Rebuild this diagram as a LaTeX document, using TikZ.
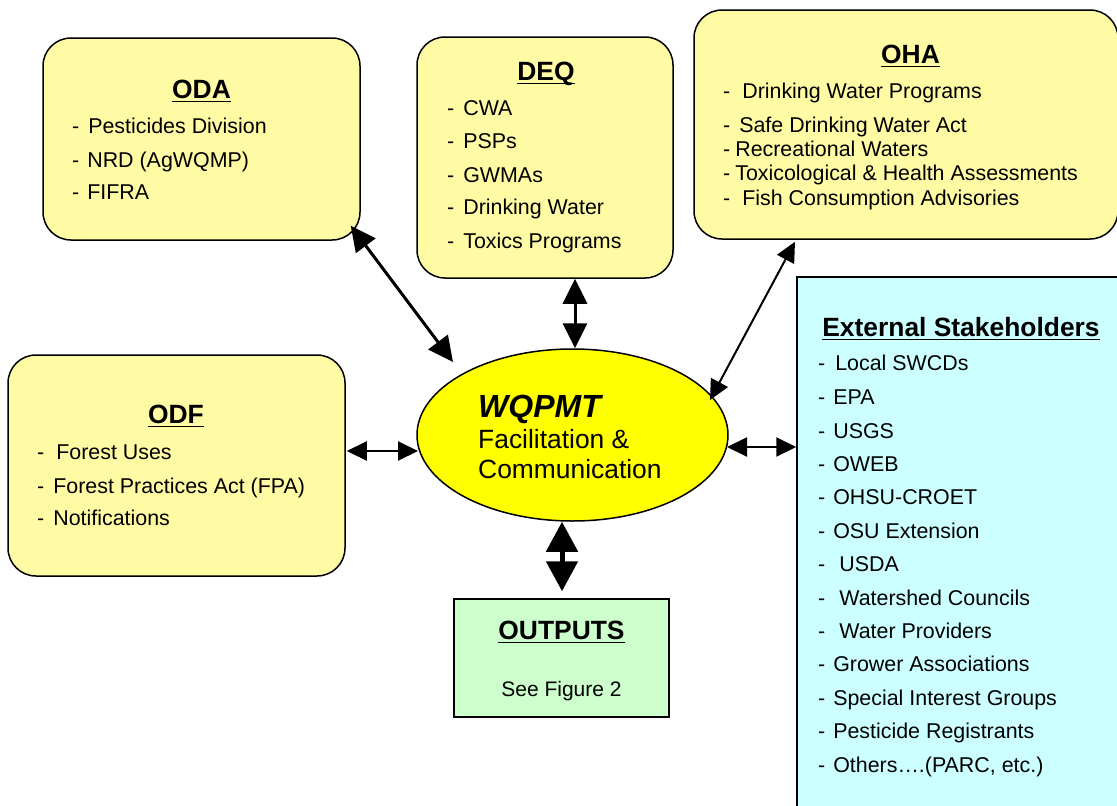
\documentclass[tikz,border=0pt]{standalone}
\usepackage{fontspec}
\setmainfont{Liberation Sans}
\usetikzlibrary{arrows.meta,calc,shapes.geometric}
\definecolor{boxyellow}{RGB}{255,251,165}
\definecolor{ellyellow}{RGB}{255,255,0}
\definecolor{extcyan}{RGB}{204,255,255}
\definecolor{outgreen}{RGB}{204,255,204}
\newcommand{\thickul}[1]{\leavevmode\setbox0=\hbox{#1}\dp0=0pt\vtop{\box0\kern2.5pt\hrule height1.5pt}}
\begin{document}
\begin{tikzpicture}[x=1pt,y=-1pt,
  agency/.style={draw=black,line width=1.5pt,fill=boxyellow,rounded corners=28pt,rectangle,inner sep=0pt},
  plainbox/.style={draw=black,line width=1.5pt,rectangle,inner sep=0pt},
  ttl/.style={anchor=base,inner sep=0pt,font=\fontsize{26.4}{30}\selectfont\bfseries},
  itm/.style={anchor=base west,inner sep=0pt,font=\fontsize{21.4}{25}\selectfont},
  wqtxt/.style={anchor=base west,inner sep=0pt,font=\fontsize{26.4}{30}\selectfont},
  arrBig/.style={line width=3pt,{Triangle[length=25pt,width=24pt]}-{Triangle[length=25pt,width=24pt]}},
  arrThin/.style={line width=2pt,{Triangle[length=20pt,width=19pt]}-{Triangle[length=20pt,width=19pt]}},
  arrFat/.style={line width=5pt,{Triangle[length=30pt,width=31pt]}-{Triangle[length=30pt,width=31pt]}}]
\useasboundingbox (0,0) rectangle (1117,806);
\clip (0,0) rectangle (1117,806);
\fill[white] (0,0) rectangle (1117,806);

% boxes
\node[agency,minimum width=317pt,minimum height=202pt] (oda) at (201.5,139) {};
\node[agency,minimum width=256pt,minimum height=241pt] (deq) at (545,157.5) {};
\node[agency,minimum width=424pt,minimum height=229pt] (oha) at (906,124.5) {};
\node[agency,minimum width=337pt,minimum height=221pt] (odf) at (176.5,465.5) {};
\node[plainbox,fill=extcyan,minimum width=333pt,minimum height=543pt] (ext) at (963.5,548.5) {};
\node[plainbox,fill=outgreen,minimum width=215pt,minimum height=118pt] (out) at (561.5,658) {};
\node[ellipse,draw=black,line width=1.5pt,fill=ellyellow,minimum width=311pt,minimum height=172pt,inner sep=0pt] (wq) at (572.5,435) {};

% ODA
\node[ttl] (odat) at (201.5,98) {\thickul{ODA}};
\node[itm] (oda1) at (72,133) {-\hspace{9pt}Pesticides Division};
\node[itm] (oda2) at (72,167) {-\hspace{8pt}NRD (AgWQMP)};
\node[itm] (oda3) at (72,199) {-\hspace{8pt}FIFRA};

% DEQ
\node[ttl] (deqt) at (546,80) {\thickul{DEQ}};
\node[itm] (deq1) at (447,115) {-\hspace{9pt}CWA};
\node[itm] (deq2) at (447,148) {-\hspace{9pt}PSPs};
\node[itm] (deq3) at (447,182) {-\hspace{9pt}GWMAs};
\node[itm] (deq4) at (447,214) {-\hspace{9pt}Drinking Water};
\node[itm] (deq5) at (447,248) {-\hspace{9pt}Toxics Programs};

% OHA
\node[ttl] (ohat) at (910.5,63) {\thickul{OHA}};
\node[itm] (oha1) at (723,98) {-\hspace{12pt}Drinking Water Programs};
\node[itm] (oha2) at (723,132) {-\hspace{9pt}Safe Drinking Water Act};
\node[itm] (oha3) at (723,156) {-\hspace{5pt}Recreational Waters};
\node[itm] (oha4) at (723,180) {-\hspace{5pt}Toxicological \& Health Assessments};
\node[itm] (oha5) at (723,205) {-\hspace{12pt}Fish Consumption Advisories};

% ODF
\node[ttl] (odft) at (176,423) {\thickul{ODF}};
\node[itm] (odf1) at (37,459) {-\hspace{12pt}Forest Uses};
\node[itm] (odf2) at (37,493) {-\hspace{9pt}Forest Practices Act (FPA)};
\node[itm] (odf3) at (37,525) {-\hspace{9pt}Notifications};

% External
\node[ttl] (extt) at (961,336) {\thickul{External Stakeholders}};
\node[itm] (ext1) at (818,370) {-\hspace{10pt}Local SWCDs};
\node[itm] (ext2) at (818,404) {-\hspace{8pt}EPA};
\node[itm] (ext3) at (818,438) {-\hspace{8pt}USGS};
\node[itm] (ext4) at (818,471) {-\hspace{8pt}OWEB};
\node[itm] (ext5) at (818,504) {-\hspace{8pt}OHSU-CROET};
\node[itm] (ext6) at (818,538) {-\hspace{8pt}OSU Extension};
\node[itm] (ext7) at (818,571) {-\hspace{14pt}USDA};
\node[itm] (ext8) at (818,605) {-\hspace{14pt}Watershed Councils};
\node[itm] (ext9) at (818,638) {-\hspace{14pt}Water Providers};
\node[itm] (ext10) at (818,671) {-\hspace{8pt}Grower Associations};
\node[itm] (ext11) at (818,705) {-\hspace{8pt}Special Interest Groups};
\node[itm] (ext12) at (818,738) {-\hspace{8pt}Pesticide Registrants};
\node[itm] (ext13) at (818,772) {-\hspace{8pt}Others….(PARC, etc.)};

% Outputs
\node[ttl] (outt) at (561.5,639) {\thickul{OUTPUTS}};
\node[anchor=base,inner sep=0pt,font=\fontsize{21}{25}\selectfont] (out1) at (561.5,696) {See Figure 2};

% WQPMT
\node[anchor=base west,inner sep=0pt,font=\fontsize{32}{38}\selectfont\bfseries\itshape] (wq1) at (478,417) {WQPMT};
\node[wqtxt] (wq2) at (478,448) {Facilitation \&};
\node[wqtxt] (wq3) at (478,478) {Communication};

% connectors
\draw[arrBig] ($(oda.south east)+(-10,-15)$) -- ($(wq.center)+(-119.5,-73)$);
\draw[arrBig] ($(deq.south)+(30,0)$) -- ($(wq.north)+(2.5,0)$);
\draw[arrThin] ($(oha.south)+(-111,2)$) -- ($(wq.center)+(137.5,-35)$);
\draw[arrThin] ($(odf.east)+(1,-14.5)$) -- ($(wq.center)+(-154.5,16)$);
\draw[arrThin] ($(wq.center)+(154.5,12)$) -- ($(ext.west)+(0,-101.5)$);
\draw[arrFat] ($(wq.south)+(-10.5,0)$) -- ($(out.north)+(0.5,-7)$);
\end{tikzpicture}
\end{document}
